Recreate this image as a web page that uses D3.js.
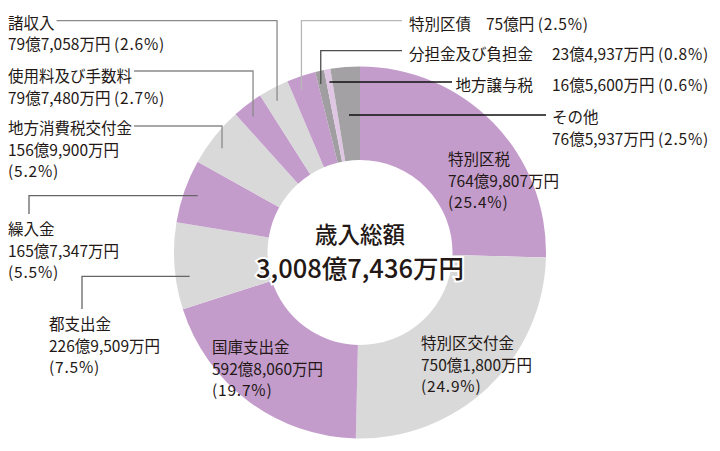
<!DOCTYPE html>
<html><head><meta charset="utf-8">
<script src="https://cdn.jsdelivr.net/npm/d3@7"></script>
<style>
html,body{margin:0;padding:0;background:#fff;}
text{font-family:"Noto Sans CJK JP","Noto Sans",sans-serif;fill:#231815;}
</style></head>
<body><svg id="c" width="720" height="451"></svg>
<script>
// ---- data ----
const categories = ["特別区税","特別区交付金","国庫支出金","都支出金","繰入金","地方消費税交付金","使用料及び手数料","諸収入","特別区債","分担金及び負担金","地方譲与税","その他"];
const values = [7649807,7501800,5928060,2269509,1657347,1569900,797480,797058,750000,234937,165600,765937]; // 万円
const percents = ["25.4%","24.9%","19.7%","7.5%","5.5%","5.2%","2.7%","2.6%","2.5%","0.8%","0.6%","2.5%"];
const totalLabel = "歳入総額";
const totalValue = 30087436;

// ---- style / layout ----
const colors = ["#c49ccc","#d9d9d9","#c49ccc","#d9d9d9","#c49ccc","#d9d9d9","#c49ccc","#d9d9d9","#c49ccc","#a09ea1","#dfc7e3","#a3a1a4"];
const cx = 360, cy = 252.5, rOut = 186, rIn = 92.5;
const FS = 15.5, LH = 21.7;

function fmt(v){
  const oku = Math.floor(v/10000), man = v % 10000;
  return man === 0 ? d3.format(",")(oku) + "億円" : d3.format(",")(oku) + "億" + d3.format(",")(man) + "万円";
}

const svg = d3.select("#c");
const g = svg.append("g").attr("transform", `translate(${cx},${cy})`);
const pie = d3.pie().sort(null).value(d => d)(values);
const arc = d3.arc().innerRadius(rIn).outerRadius(rOut);
g.selectAll("path").data(pie).join("path")
  .attr("d", arc).attr("fill", (d,i) => colors[i]);

const layout = {
  0: {kind:"inner", x:448, y:158},
  1: {kind:"inner", x:421, y:342},
  2: {kind:"inner", x:212, y:346},
  3: {kind:"left3", x:49, y:323, type:"up", vx:82, t:0.36, color:"#666"},
  4: {kind:"left3", x:8, y:228, type:"up", vx:29, t:0.5, color:"#666"},
  5: {kind:"left3", x:8, y:127, type:"down", lineY:126, t:0.42, color:"#8a8a8a"},
  6: {kind:"left2", x:8, y:75, type:"down", lineY:71, t:0.4, color:"#8a8a8a"},
  7: {kind:"left2", x:8, y:21.5, type:"down", lineY:20.7, t:0.4, color:"#8a8a8a"},
  8: {kind:"right1", x:409, vx2:486, y:23, type:"down", lineY:20.7, lineEnd:402, t:0.35, color:"#b8b8b8"},
  9: {kind:"rightR", xr:533, vx2:552, y:53, type:"down", lineY:50.7, lineEnd:402, t:0.3, color:"#4d4d4d"},
  10:{kind:"rightR", xr:533, vx2:552, y:84, type:"h", lineY:82, lineEnd:452, t:0.5, color:"#111"},
  11:{kind:"right2", x:552, y:116, type:"h", lineY:115, lineEnd:546, t:0.5, color:"#111"}
};

function angleAt(d, t){ return d.startAngle + (d.endAngle - d.startAngle) * t; }
function pointAt(a, r){ return [cx + r*Math.sin(a), cy - r*Math.cos(a)]; }

const lab = svg.append("g");
const lines = svg.append("g");

pie.forEach((d,i) => {
  const L = layout[i];
  const name = categories[i], val = fmt(values[i]), pct = "(" + percents[i] + ")";
  const addText = (x, y, s, anchor) => lab.append("text").attr("x", x).attr("y", y)
      .attr("dominant-baseline","central").attr("font-size", FS)
      .attr("text-anchor", anchor || "start").text(s);
  const addValPct = (x, y) => {
    const t = lab.append("text").attr("x", x).attr("y", y)
      .attr("dominant-baseline","central").attr("font-size", FS);
    t.append("tspan").text(val);
    t.append("tspan").attr("dx", 3.5).attr("letter-spacing", 0.8).text(pct);
    return t;
  };
  const addPct = (x, y) => lab.append("text").attr("x", x).attr("y", y)
      .attr("dominant-baseline","central").attr("font-size", FS)
      .attr("letter-spacing", 0.8).text(pct);
  if (L.kind === "inner" || L.kind === "left3") {
    const t1 = addText(L.x, L.y, name);
    addText(L.x, L.y + LH, val);
    addPct(L.x, L.y + 2*LH);
    L.node = t1.node();
  } else if (L.kind === "left2") {
    L.node = addText(L.x, L.y, name).node();
    addValPct(L.x, L.y + LH);
  } else if (L.kind === "right1") {
    addText(L.x, L.y, name);
    addValPct(L.vx2, L.y);
  } else if (L.kind === "rightR") {
    addText(L.xr, L.y, name, "end");
    addValPct(L.vx2, L.y);
  } else if (L.kind === "right2") {
    addText(L.x, L.y, name);
    addValPct(L.x, L.y + LH);
  }
  if (!L.type) return;
  const a = angleAt(d, L.t);
  let pts;
  if (L.type === "down") {
    const p = pointAt(a, 173);
    const x0 = L.lineEnd !== undefined ? L.lineEnd : L.x + L.node.getComputedTextLength() + 2;
    pts = [[x0, L.lineY], [p[0], L.lineY], p];
  } else if (L.type === "up") {
    const p = pointAt(a, 172);
    pts = [[L.vx, L.y - 14], [L.vx, p[1]], p];
  } else {
    const px = cx + (cy - L.lineY) * Math.tan(a);
    pts = [[px, L.lineY], [L.lineEnd, L.lineY]];
  }
  lines.append("path").attr("d", d3.line()(pts)).attr("fill","none")
    .attr("stroke", L.color).attr("stroke-width", 1.3);
});

// center text
const ct = svg.append("g");
ct.append("text").attr("x", cx).attr("y", 233).attr("text-anchor","middle")
  .attr("dominant-baseline","central").attr("font-size", 22.5).attr("font-weight", 500)
  .attr("stroke","#fff").attr("stroke-width",4).attr("paint-order","stroke").text(totalLabel);
ct.append("text").attr("x", cx).attr("y", 266.5).attr("text-anchor","middle")
  .attr("dominant-baseline","central").attr("font-size", 25.5).attr("font-weight", 500)
  .attr("stroke","#fff").attr("stroke-width",4).attr("paint-order","stroke").text(fmt(totalValue));
</script></body></html>
